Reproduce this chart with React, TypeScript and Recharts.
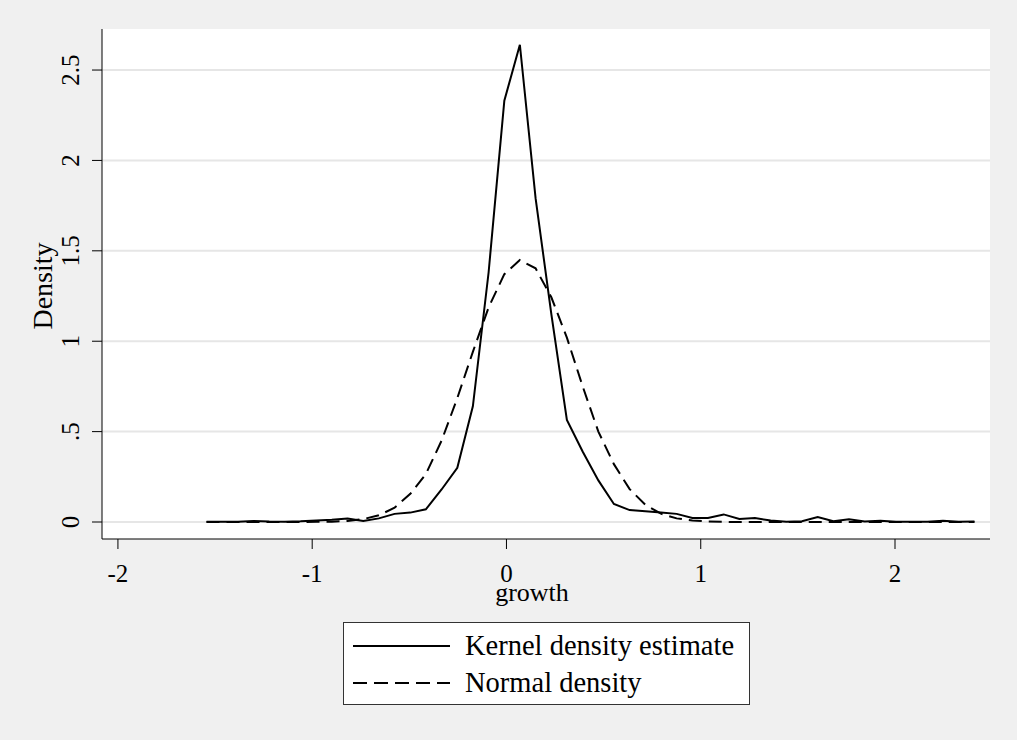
import { LineChart, Line, XAxis, YAxis, CartesianGrid } from "recharts";

// grid points of the density estimate (growth)
const gridX = [
  -1.544, -1.463, -1.382, -1.302, -1.221, -1.141, -1.06, -0.979, -0.899, -0.818,
  -0.737, -0.657, -0.576, -0.495, -0.415, -0.334, -0.253, -0.173, -0.092, -0.011,
  0.069, 0.15, 0.231, 0.311, 0.392, 0.473, 0.553, 0.634, 0.715, 0.795,
  0.876, 0.957, 1.037, 1.118, 1.199, 1.279, 1.36, 1.441, 1.521, 1.602,
  1.683, 1.763, 1.844, 1.925, 2.005, 2.086, 2.167, 2.247, 2.328, 2.409,
];

const kernelDensity = [
  0.002, 0.001, 0.002, 0.006, 0.003, 0.002, 0.004, 0.008, 0.012, 0.02,
  0.006, 0.02, 0.045, 0.052, 0.07, 0.18, 0.3, 0.64, 1.38, 2.33,
  2.64, 1.79, 1.15, 0.565, 0.39, 0.23, 0.1, 0.066, 0.06, 0.053,
  0.045, 0.022, 0.022, 0.042, 0.017, 0.022, 0.008, 0.002, 0.004, 0.027,
  0.004, 0.015, 0.003, 0.007, 0.002, 0.002, 0.002, 0.007, 0.002, 0.003,
];

const normalDensity = [
  0, 0, 0, 0, 0, 0, 0, 0.001, 0.002, 0.006,
  0.016, 0.037, 0.079, 0.156, 0.265, 0.45, 0.686, 0.941, 1.187, 1.371,
  1.449, 1.403, 1.243, 1.02, 0.751, 0.5, 0.32, 0.182, 0.095, 0.046,
  0.02, 0.008, 0.003, 0.001, 0, 0, 0, 0, 0, 0,
  0, 0, 0, 0, 0, 0, 0, 0, 0, 0,
];

const xTicks = [-2, -1, 0, 1, 2];
const yTicks = [0, 0.5, 1, 1.5, 2, 2.5];
const yTickLabels = ["0", ".5", "1", "1.5", "2", "2.5"];
const seriesNames = ["Kernel density estimate", "Normal density"];

const data = gridX.map((x, i) => ({ x, kernel: kernelDensity[i], normal: normalDensity[i] }));

const FONT = "'Liberation Serif', 'Times New Roman', serif";

function YTick(props: any) {
  const { x, y, payload } = props;
  const i = yTicks.indexOf(payload.value);
  const cx = x - 21;
  return (
    <text
      x={cx}
      y={y}
      transform={`rotate(-90 ${cx} ${y})`}
      textAnchor="middle"
      dominantBaseline="central"
      fontFamily={FONT}
      fontSize={25}
      fill="#000"
    >
      {i >= 0 ? yTickLabels[i] : payload.value}
    </text>
  );
}

function YTitle(props: any) {
  const vb = props.viewBox || { x: 0, y: 0, width: 0, height: 0 };
  const cx = vb.x + 12;
  const cy = vb.y + vb.height / 2 + 2;
  return (
    <text
      x={cx}
      y={cy}
      transform={`rotate(-90 ${cx} ${cy})`}
      textAnchor="middle"
      dominantBaseline="central"
      fontFamily={FONT}
      fontSize={28}
      fill="#000"
    >
      Density
    </text>
  );
}

function XTitle(props: any) {
  const vb = props.viewBox || { x: 0, y: 0, width: 0, height: 0 };
  return (
    <text x={vb.x + vb.width / 2 - 14} y={vb.y + 62} textAnchor="middle" fontFamily={FONT} fontSize={26} fill="#000">
      growth
    </text>
  );
}

export default function App() {
  return (
    <div style={{ position: "absolute", left: 0, top: 0, width: 1017, height: 740, background: "#f0f0f0" }}>
      <LineChart width={1017} height={740} data={data} margin={{ top: 29, right: 27, left: 30, bottom: 137 }}>
        <CartesianGrid vertical={false} horizontalValues={yTicks} stroke="#e6e6e6" strokeWidth={2} fill="#ffffff" fillOpacity={1} />
        <XAxis
          dataKey="x"
          type="number"
          domain={[-2.082, 2.489]}
          ticks={xTicks}
          allowDataOverflow
          height={64}
          tickSize={10}
          tickMargin={15}
          axisLine={{ stroke: "#000", strokeWidth: 1 }}
          tickLine={{ stroke: "#000", strokeWidth: 1 }}
          tick={{ fontFamily: FONT, fontSize: 25, fill: "#000" }}
          label={<XTitle />}
        />
        <YAxis
          type="number"
          domain={[-0.094, 2.727]}
          ticks={yTicks}
          allowDataOverflow
          width={72}
          tickSize={10}
          tickMargin={0}
          axisLine={{ stroke: "#000", strokeWidth: 1 }}
          tickLine={{ stroke: "#000", strokeWidth: 1 }}
          tick={<YTick />}
          label={<YTitle />}
        />
        <Line type="linear" dataKey="kernel" stroke="#000" strokeWidth={2} dot={false} isAnimationActive={false} />
        <Line
          type="linear"
          dataKey="normal"
          stroke="#000"
          strokeWidth={2}
          strokeDasharray="13 7"
          dot={false}
          isAnimationActive={false}
        />
      </LineChart>
      <div
        style={{
          position: "absolute",
          left: 343,
          top: 622,
          width: 405,
          height: 81,
          background: "#fff",
          border: "1px solid #333",
          fontFamily: FONT,
          fontSize: 28.5,
        }}
      >
        {seriesNames.map((name, i) => (
          <div key={name} style={{ position: "absolute", left: 9, top: i === 0 ? 8 : 45, height: 30, display: "flex", alignItems: "center" }}>
            <svg width={98} height={10}>
              <line x1={0} y1={5} x2={97} y2={5} stroke="#000" strokeWidth={2} strokeDasharray={i === 0 ? undefined : "14 7"} />
            </svg>
            <span style={{ marginLeft: 14, whiteSpace: "nowrap", lineHeight: "30px" }}>{name}</span>
          </div>
        ))}
      </div>
    </div>
  );
}
